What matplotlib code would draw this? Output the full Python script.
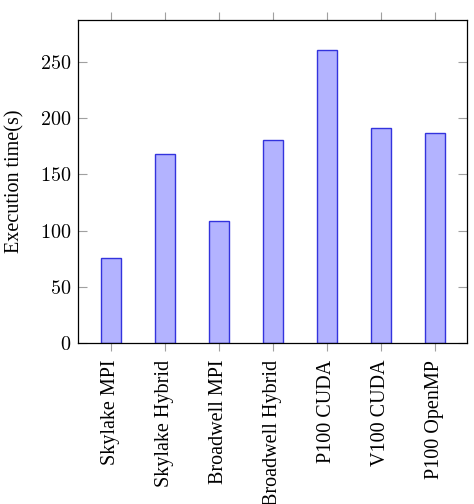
import matplotlib.pyplot as plt

# data
categories = ['Skylake MPI', 'Skylake Hybrid', 'Broadwell MPI', 'Broadwell Hybrid',
              'P100 CUDA', 'V100 CUDA', 'P100 OpenMP']
exec_time = [76, 168.5, 109, 180.5, 261, 191.5, 186.5]
yticks = [0, 50, 100, 150, 200, 250]

plt.rcParams['font.family'] = ['Liberation Serif', 'DejaVu Serif']
plt.rcParams['mathtext.fontset'] = 'cm'

fig = plt.figure(figsize=(4.74, 5.04), dpi=100)
ax = fig.add_axes([0.1652, 0.3194, 0.8207, 0.6409])

x = list(range(len(categories)))
ax.bar(x, exec_time, width=0.37, color='#b3b3ff', edgecolor='#3333dd', linewidth=1.0, zorder=2)

ax.set_xlim(-0.605, len(categories) - 1 + 0.605)
ax.set_ylim(0, 287.5)

ax.set_xticks(x)
ax.set_xticklabels(categories, rotation=90, fontsize=14.5)
ax.set_yticks(yticks)
ax.set_yticklabels(['$%d$' % v for v in yticks], fontsize=14.5)
ax.set_ylabel('Execution time(s)', fontsize=14.5, labelpad=11)

ax.tick_params(axis='x', direction='out', length=6, width=0.8, color='#a0a0a0',
               top=True, bottom=True, pad=6)
ax.tick_params(axis='y', direction='in', length=6.5, width=0.8, color='#a0a0a0',
               left=True, right=True, pad=5)
for s in ax.spines.values():
    s.set_linewidth(0.9)
    s.set_color('black')

fig.savefig('out.png', dpi=100)
